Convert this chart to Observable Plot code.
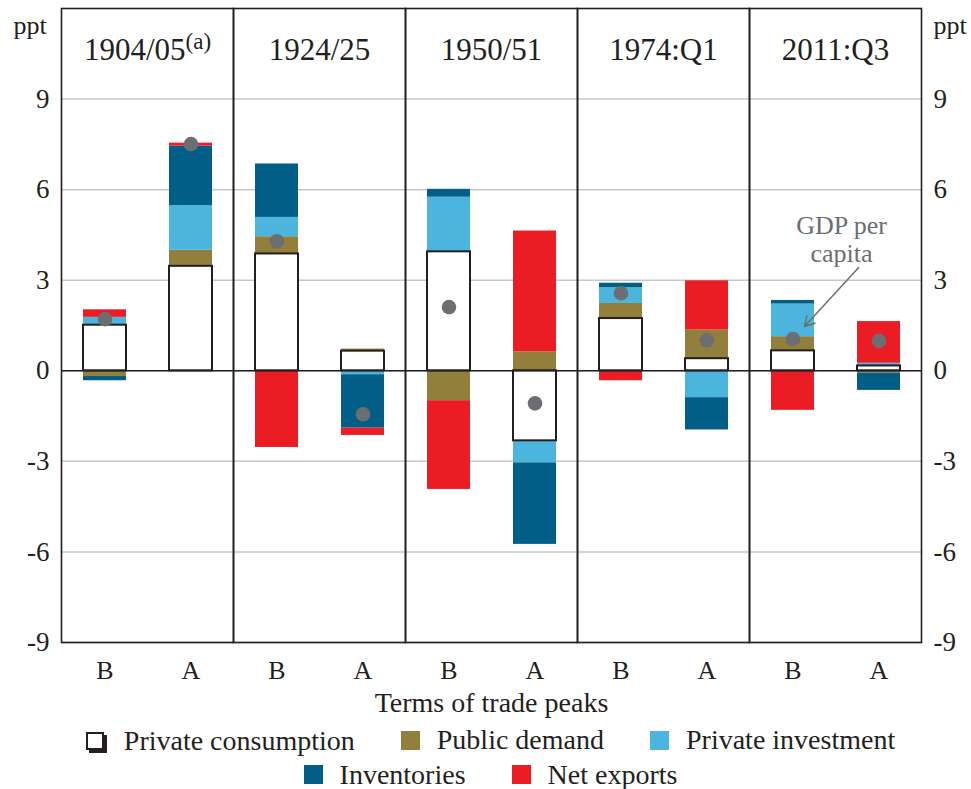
<!DOCTYPE html>
<html><head><meta charset="utf-8">
<script src="https://cdn.jsdelivr.net/npm/d3@7"></script>
<script src="https://cdn.jsdelivr.net/npm/@observablehq/plot@0.6"></script>
<style>
  body { margin: 0; background: #fff; font-family: "Liberation Serif", "Times New Roman", serif; color: #231f20; }
  #chart { width: 971px; }
  .legend { width: 981px; text-align: center; font-size: 28px; line-height: 34px; margin-top: 3px; }
  .item { display: inline-flex; align-items: center; margin: 0 23px; }
  .sw { width: 19px; height: 19px; margin-right: 17px; box-sizing: border-box; }
  .sw.outline { background: #fff; border: 2px solid #231f20; box-shadow: 3px 3px 0 #231f20; width: 18px; height: 18px; margin-right: 20px; }
</style></head>
<body>
<div id="chart"></div>
<script>
// ---- data ----
const periods = ["1904/05", "1924/25", "1950/51", "1974:Q1", "2011:Q3"];
const periodNotes = ["(a)", "", "", "", ""];
const phases = ["B", "A"];
const components = ["Private consumption", "Public demand", "Private investment", "Inventories", "Net exports"];
const componentColors = ["#ffffff", "#927f3b", "#4cb5de", "#015f87", "#ec1c24"];
// order of values: 1904/05 B, A, 1924/25 B, A, 1950/51 B, A, 1974:Q1 B, A, 2011:Q3 B, A
const privateConsumption = [1.51, 3.46, 3.87, 0.65, 3.94, -2.32, 1.73, 0.40, 0.66, 0.16];
const publicDemand       = [-0.19, 0.53, 0.57, 0.07, -0.99, 0.63, 0.50, 0.95, 0.47, -0.08];
const privateInvestment  = [0.26, 1.48, 0.64, -0.13, 1.81, -0.73, 0.52, -0.89, 1.08, 0.09];
const inventories        = [-0.14, 1.97, 1.77, -1.77, 0.26, -2.70, 0.15, -1.07, 0.12, -0.57];
const netExports         = [0.25, 0.10, -2.54, -0.24, -2.94, 4.00, -0.33, 1.63, -1.31, 1.38];
const gdpPerCapita       = [1.71, 7.51, 4.29, -1.44, 2.11, -1.08, 2.57, 1.01, 1.05, 0.99];
const yTicks = [-9, -6, -3, 0, 3, 6, 9];
const yDomain = [-9, 12];
const axisUnit = "ppt";
const xTitle = "Terms of trade peaks";
// annotation
const annotationText = ["GDP per\ncapita"];
const annotationY = [4.37];
const annotationArrow = [{x1: "A", y1: 4.15, x2: "B", y2: 1.05}];

// ---- build tables ----
const series = [privateConsumption, publicDemand, privateInvestment, inventories, netExports];
const rows = [];
const dots = [];
const cells = [];
periods.forEach((p, i) => phases.forEach((ph, j) => {
  const idx = i * 2 + j;
  cells.push({period: p, phase: ph});
  dots.push({period: p, phase: ph, value: gdpPerCapita[idx]});
  components.forEach((c, k) => rows.push({period: p, phase: ph, component: c, value: series[k][idx]}));
}));
const headers = periods.map((p, i) => ({period: p, label: p + periodNotes[i]}));
const lastP = periods[periods.length - 1];

const stackOpts = {fx: "period", x: "phase", y: "value", z: "component"};
const ink = "#231f20";

const chart = Plot.plot({
  width: 971,
  height: 720,
  marginLeft: 60,
  marginRight: 50,
  marginTop: 8,
  marginBottom: 78,
  style: {fontFamily: "'Liberation Serif', 'Times New Roman', serif", fontSize: "27px", color: ink, background: "#fff"},
  fx: {domain: periods, padding: 0, axis: null, label: null},
  x: {domain: phases, paddingInner: 0.5, paddingOuter: 0.25, axis: null, label: null},
  y: {domain: yDomain, label: null},
  color: {domain: components, range: componentColors},
  marks: [
    Plot.ruleY(yTicks, {stroke: "#c6c7c9", strokeWidth: 1.5}),
    Plot.barY(rows, {...stackOpts, fill: "component"}),
    Plot.barY(rows, Plot.filter(d => d.component === components[0], Plot.stackY({...stackOpts, fill: "none", stroke: ink, strokeWidth: 2}))),
    Plot.ruleY([0], {stroke: ink, strokeWidth: 1.5}),
    Plot.ruleX(periods, {fx: d => d, y1: yDomain[0], y2: yDomain[0] + 0.3, stroke: ink, strokeWidth: 1.2}),
    Plot.dot(dots, {fx: "period", x: "phase", y: "value", r: 7.3, fill: "#6d6e71"}),
    Plot.frame({stroke: ink, strokeWidth: 1.6}),
    Plot.axisY({anchor: "left", ticks: yTicks, tickSize: 0, tickPadding: 12, fontSize: 27, tickFormat: d => `${d}`, label: null}),
    Plot.axisY({anchor: "right", ticks: yTicks, tickSize: 0, tickPadding: 12, fontSize: 27, tickFormat: d => `${d}`, label: null}),
    Plot.text([axisUnit], {fx: () => periods[0], frameAnchor: "top-left", lineAnchor: "middle", dx: -48, dy: 17, textAnchor: "start", fontSize: 26}),
    Plot.text([axisUnit], {fx: () => lastP, frameAnchor: "top-right", lineAnchor: "middle", dx: 12, dy: 17, textAnchor: "start", fontSize: 26}),
    Plot.text(headers, {fx: "period", text: "label", frameAnchor: "top", lineAnchor: "middle", dy: 42, fontSize: 31}),
    Plot.text(cells, {fx: "period", x: "phase", text: "phase", frameAnchor: "bottom", lineAnchor: "middle", dy: 28, fontSize: 26}),
    Plot.text([xTitle], {fx: () => periods[2], frameAnchor: "bottom", lineAnchor: "middle", dy: 61, fontSize: 28}),
    Plot.text(annotationText, {fx: () => lastP, y: (d, i) => annotationY[i], text: d => d, dx: 6, fill: "#6d6e71", fontSize: 26, lineHeight: 1.1}),
    Plot.arrow(annotationArrow, {fx: () => lastP, x1: "x1", y1: "y1", x2: "x2", y2: "y2", stroke: "#6d6e71", strokeWidth: 1.5, headLength: 11, insetStart: 30, insetEnd: 17})
  ]
});

// superscript footnote marker in panel header
chart.querySelectorAll("text").forEach(t => {
  headers.forEach((h, i) => {
    if (periodNotes[i] && t.textContent === h.label) {
      t.textContent = "";
      const a = document.createElementNS("http://www.w3.org/2000/svg", "tspan");
      a.textContent = periods[i];
      const b = document.createElementNS("http://www.w3.org/2000/svg", "tspan");
      b.textContent = periodNotes[i];
      b.setAttribute("font-size", "23");
      b.setAttribute("dy", "-11");
      t.appendChild(a); t.appendChild(b);
    }
  });
});
document.getElementById("chart").appendChild(chart);

// legend
const legend = document.createElement("div");
legend.className = "legend";
const rowsSplit = [components.slice(0, 3), components.slice(3)];
rowsSplit.forEach(r => {
  const line = document.createElement("div");
  r.forEach(c => {
    const k = components.indexOf(c);
    const item = document.createElement("span");
    item.className = "item";
    const sw = document.createElement("span");
    sw.className = k === 0 ? "sw outline" : "sw";
    if (k !== 0) sw.style.background = componentColors[k];
    item.appendChild(sw);
    item.appendChild(document.createTextNode(c));
    line.appendChild(item);
  });
  legend.appendChild(line);
});
document.body.appendChild(legend);
</script>
</body></html>
